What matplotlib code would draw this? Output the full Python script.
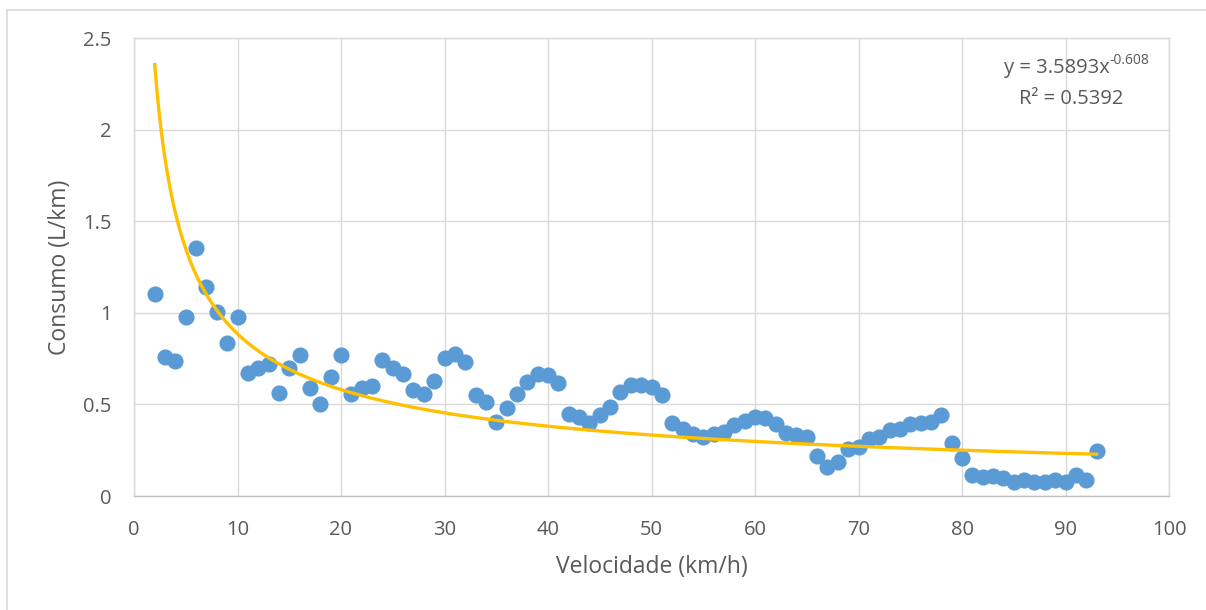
import matplotlib
matplotlib.use("Agg")
import matplotlib.pyplot as plt
from matplotlib.patches import Rectangle
import numpy as np

velocidade = list(range(2, 94))
consumo = [
    1.105, 0.758, 0.738, 0.976, 1.354, 1.140, 1.004, 0.836, 0.976,   # 2-10
    0.670, 0.696, 0.723, 0.561, 0.696, 0.767, 0.590, 0.504, 0.647, 0.767,  # 11-20
    0.557, 0.590, 0.601, 0.743, 0.701, 0.668, 0.579, 0.557, 0.628, 0.754,  # 21-30
    0.776, 0.734, 0.554, 0.514, 0.403, 0.483, 0.557, 0.625, 0.668, 0.659,  # 31-40
    0.616, 0.450, 0.430, 0.399, 0.441, 0.488, 0.565, 0.607, 0.607, 0.594,  # 41-50
    0.552, 0.401, 0.368, 0.340, 0.322, 0.340, 0.351, 0.388, 0.408, 0.430,  # 51-60
    0.426, 0.393, 0.346, 0.335, 0.324, 0.219, 0.158, 0.184, 0.259, 0.270,  # 61-70
    0.310, 0.324, 0.361, 0.368, 0.393, 0.397, 0.403, 0.441, 0.288, 0.206,  # 71-80
    0.113, 0.104, 0.111, 0.100, 0.077, 0.089, 0.075, 0.078, 0.086, 0.075,  # 81-90
    0.113, 0.086, 0.248,                                                  # 91-93
]

trend_a = 3.5893
trend_b = -0.608
eq_main = "y = 3.5893x"
eq_exp = "-0.608"
r2_text = "R² = 0.5392"

x_ticks = [0, 10, 20, 30, 40, 50, 60, 70, 80, 90, 100]
y_ticks = [0, 0.5, 1, 1.5, 2, 2.5]
y_tick_labels = ["0", "0.5", "1", "1.5", "2", "2.5"]

plt.rcParams['font.family'] = ['Open Sans', 'DejaVu Sans']

W, H = 1206, 610
fig = plt.figure(figsize=(W / 100, H / 100), dpi=100)
fig.patch.set_facecolor('white')

# outer chart frame
fig.patches.append(Rectangle((7 / W, -0.1), 1.2, 1 - 10 / H + 0.1,
                             transform=fig.transFigure, fill=False,
                             edgecolor='#D9D9D9', linewidth=1.2))

ax = fig.add_axes([134 / W, 1 - 496 / H, (1169 - 134) / W, (496 - 38) / H])
ax.set_xlim(0, 100)
ax.set_ylim(0, 2.5)
ax.set_xticks(x_ticks)
ax.set_yticks(y_ticks)
ax.set_yticklabels(y_tick_labels)
ax.grid(True, color='#D9D9D9', linewidth=1.0)
ax.set_axisbelow(True)
for s in ['top', 'right', 'left']:
    ax.spines[s].set_color('#D9D9D9')
    ax.spines[s].set_linewidth(1.0)
ax.spines['bottom'].set_color('#BFBFBF')
ax.spines['bottom'].set_linewidth(1.0)
ax.tick_params(axis='both', length=0, labelsize=14.5, labelcolor='#595959')
ax.tick_params(axis='x', pad=17)
ax.tick_params(axis='y', pad=16)

ax.scatter(velocidade, consumo, s=135, color='#5B9BD5', zorder=3, linewidths=0)

xt = np.linspace(min(velocidade), max(velocidade), 400)
ax.plot(xt, trend_a * xt ** trend_b, color='#FFC000', linewidth=2.4, zorder=4)

ax.set_xlabel('Velocidade (km/h)', fontsize=16.5, color='#595959', labelpad=11)
ax.set_ylabel('Consumo (L/km)', fontsize=16.5, color='#595959', labelpad=8)

ax.text(1110 / W, 1 - 68 / H, eq_main, transform=fig.transFigure,
        ha='right', va='center', fontsize=14.5, color='#595959')
ax.text(1110 / W, 1 - 61 / H, eq_exp, transform=fig.transFigure,
        ha='left', va='center', fontsize=10, color='#595959')
ax.text(1071 / W, 1 - 99 / H, r2_text, transform=fig.transFigure,
        ha='center', va='center', fontsize=14.5, color='#595959')

fig.savefig('out.png', dpi=100, facecolor='white')
